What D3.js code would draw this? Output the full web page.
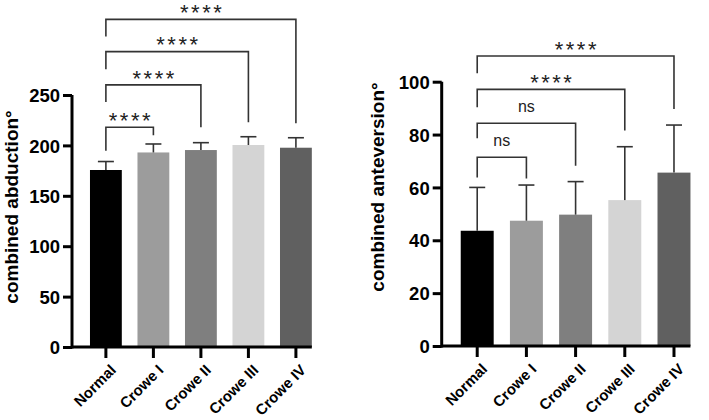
<!DOCTYPE html>
<html>
<head>
<meta charset="utf-8">
<script src="https://cdn.jsdelivr.net/npm/d3@7"></script>
<style>
  body { margin: 0; background: #fff; }
  svg { font-family: "Liberation Sans", Arial, sans-serif; }
</style>
</head>
<body>
<svg id="chart" width="709" height="420"></svg>
<script>
// groups and bar colours
var categories = ['Normal', 'Crowe I', 'Crowe II', 'Crowe III', 'Crowe IV'];
var barColors = ['#000000', '#9c9c9c', '#7f7f7f', '#d4d4d4', '#606060'];

// combined abduction (mean, sd)
var abductionMean = [175.6, 193.0, 195.4, 200.4, 197.7];
var abductionSD = [8.4, 8.4, 7.3, 8.2, 9.9];
var abductionTicks = [0, 50, 100, 150, 200, 250];
// comparisons vs Normal: bracket level and leg ends in data units
var abductionSig = [
  {to: 1, label: '****', level: 218, leftEnd: 194.7, rightEnd: 210},
  {to: 2, label: '****', level: 260, leftEnd: 243, rightEnd: 218},
  {to: 3, label: '****', level: 293, leftEnd: 275.5, rightEnd: 223},
  {to: 4, label: '****', level: 325, leftEnd: 308, rightEnd: 222}
];

// combined anteversion (mean, sd)
var anteversionMean = [43.6, 47.4, 49.7, 55.2, 65.6];
var anteversionSD = [16.4, 13.5, 12.5, 20.2, 18.0];
var anteversionTicks = [0, 20, 40, 60, 80, 100];
var anteversionSig = [
  {to: 1, label: 'ns', level: 71.4, leftEnd: 63.8, rightEnd: 63.4},
  {to: 2, label: 'ns', level: 84.3, leftEnd: 78.6, rightEnd: 68.2},
  {to: 3, label: '****', level: 97.1, leftEnd: 90.3, rightEnd: 81.5},
  {to: 4, label: '****', level: 109.7, leftEnd: 103.2, rightEnd: 89.7}
];

var svg = d3.select('#chart');

function drawPanel(p) {
  var g = svg.append('g');
  var yScale = d3.scaleLinear().domain([0, p.ticks[p.ticks.length - 1]]).range([p.y0, p.y1]);
  var xScale = d3.scaleBand().domain(categories).range([p.bandStart, p.bandEnd])
    .paddingInner(0.33).paddingOuter(0.33);
  var bw = xScale.bandwidth();
  var cx = d => xScale(d) + bw / 2;
  var rows = categories.map((c, i) => ({cat: c, mean: p.mean[i], sd: p.sd[i], color: barColors[i]}));

  // bars
  g.selectAll('rect.bar')
    .data(rows)
    .enter()
    .append('rect')
    .attr('class', 'bar')
    .attr('x', d => xScale(d.cat))
    .attr('width', bw)
    .attr('y', d => yScale(d.mean))
    .attr('height', d => yScale(0) - yScale(d.mean))
    .style('fill', d => d.color);

  // error bars (upper only)
  var eb = g.selectAll('g.err')
    .data(rows)
    .enter()
    .append('g')
    .attr('class', 'err')
    .style('stroke', '#333')
    .style('stroke-width', '1.6px');
  eb.append('line')
    .attr('x1', d => cx(d.cat)).attr('x2', d => cx(d.cat))
    .attr('y1', d => yScale(d.mean)).attr('y2', d => yScale(d.mean + d.sd));
  eb.append('line')
    .attr('x1', d => cx(d.cat) - 8).attr('x2', d => cx(d.cat) + 8)
    .attr('y1', d => yScale(d.mean + d.sd)).attr('y2', d => yScale(d.mean + d.sd));

  // y axis
  var yAxis = g.append('g')
    .attr('transform', `translate(${p.axisX}, 0)`)
    .call(d3.axisLeft(yScale).tickValues(p.ticks).tickSize(9).tickSizeOuter(0).tickPadding(3));
  yAxis.select('.domain').remove();
  yAxis.selectAll('line').style('stroke', '#000').style('stroke-width', '3px');
  yAxis.selectAll('text')
    .style('font-size', '18.5px')
    .style('font-weight', 'bold')
    .style('fill', '#000')
    .attr('dy', '0.36em');

  var lastBar = categories[categories.length - 1];
  // axis lines
  g.append('line')
    .attr('x1', p.axisX).attr('x2', p.axisX)
    .attr('y1', yScale.range()[0] + 1.5).attr('y2', yScale.range()[1])
    .style('stroke', '#000').style('stroke-width', '3px');
  g.append('line')
    .attr('x1', p.axisX).attr('x2', xScale(lastBar) + bw)
    .attr('y1', yScale(0)).attr('y2', yScale(0))
    .style('stroke', '#000').style('stroke-width', '3px');

  // x ticks and labels
  var xAxis = g.append('g')
    .attr('transform', `translate(0, ${yScale(0)})`)
    .call(d3.axisBottom(xScale).tickSize(11).tickSizeOuter(0));
  xAxis.select('.domain').remove();
  xAxis.selectAll('line').style('stroke', '#000').style('stroke-width', '3px');
  xAxis.selectAll('text')
    .attr('y', 0).attr('dy', 0)
    .attr('text-anchor', 'end')
    .attr('transform', 'translate(11, 24) rotate(-45)')
    .style('font-size', '15px')
    .style('font-weight', 'bold')
    .style('fill', '#000');

  // y label
  g.append('text')
    .attr('transform', `translate(${p.labelX}, ${p.labelY}) rotate(-90)`)
    .attr('text-anchor', 'middle')
    .style('font-size', '19px')
    .style('font-weight', 'bold')
    .text(p.title);

  // significance brackets
  var x0 = cx(categories[0]);
  var br = g.selectAll('g.sig')
    .data(p.sig)
    .enter()
    .append('g')
    .attr('class', 'sig');
  br.append('path')
    .attr('d', d => `M${x0},${yScale(d.leftEnd)}V${yScale(d.level)}H${cx(categories[d.to])}V${yScale(d.rightEnd)}`)
    .style('fill', 'none')
    .style('stroke', '#333')
    .style('stroke-width', '1.6px');
  br.append('text')
    .attr('x', d => (x0 + cx(categories[d.to])) / 2)
    .attr('dx', d => d.label === 'ns' ? 0 : 1.25)
    .attr('y', d => d.label === 'ns' ? yScale(d.level) - 11 : yScale(d.level) + 0.6)
    .attr('text-anchor', 'middle')
    .style('font-size', d => d.label === 'ns' ? '16px' : '22px')
    .style('letter-spacing', d => d.label === 'ns' ? '0px' : '2.5px')
    .style('fill', '#222')
    .text(d => d.label);
}

drawPanel({
  mean: abductionMean, sd: abductionSD, ticks: abductionTicks, sig: abductionSig,
  title: 'combined abduction°',
  axisX: 72, y0: 347, y1: 95, bandStart: 74.3, bandEnd: 327.5,
  labelX: 18, labelY: 207
});

drawPanel({
  mean: anteversionMean, sd: anteversionSD, ticks: anteversionTicks, sig: anteversionSig,
  title: 'combined anteversion°',
  axisX: 441.7, y0: 346, y1: 81.7, bandStart: 444.5, bandEnd: 706.7,
  labelX: 384, labelY: 187
});
</script>
</body>
</html>
